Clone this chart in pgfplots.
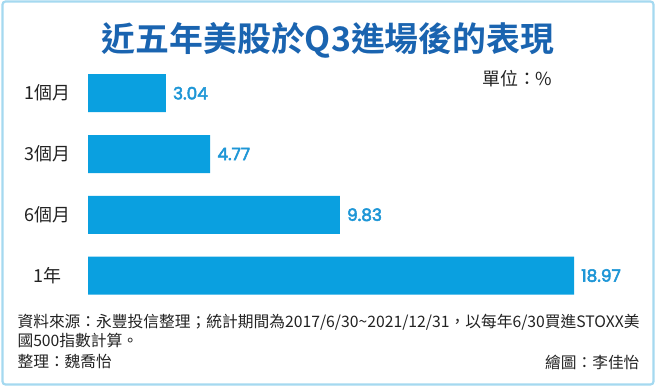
\documentclass[border=0pt]{standalone}
\usepackage{fontspec}
\usepackage{pgfplots}
\pgfplotsset{compat=1.18}
\setmainfont{Noto Sans CJK TC}[BoldFont={Noto Sans CJK TC Bold}]
\newfontfamily\numfont{Poppins}[FakeBold=3]
\definecolor{barblue}{HTML}{0AA0E0}
\definecolor{valblue}{HTML}{1E96D6}
\definecolor{titleblue}{HTML}{1A64B0}
\definecolor{framec}{HTML}{A5D9F0}
\definecolor{txt}{HTML}{222222}
\begin{document}
\begin{tikzpicture}[x=1bp,y=1bp]
\useasboundingbox (0,0) rectangle (656,386);
\draw[framec, line width=2.2bp, rounded corners=3bp] (2.5,1.5) rectangle (653.5,384.5);
\node[text=titleblue, font=\fontsize{34}{36}\selectfont\bfseries] at (328,346) {近五年美股於Q3進場後的表現};
\node[text=txt, anchor=east, font=\fontsize{18}{20}\selectfont] at (556,307) {單位：\%};
\begin{axis}[at={(88bp,80bp)}, anchor=south west, scale only axis,
  width=512.4bp, height=243.2bp, xmin=0, xmax=20, ymin=-0.5, ymax=3.5,
  y dir=reverse, xbar, bar width=38bp,
  axis line style={draw=none}, tick style={draw=none},
  xtick=\empty, ytick={0,1,2,3}, yticklabels={1個月,3個月,6個月,1年},
  yticklabel style={anchor=center, xshift=-36bp, font=\fontsize{18}{20}\selectfont, text=txt},
  nodes near coords, point meta=explicit symbolic,
  nodes near coords style={anchor=west, inner sep=0pt, xshift=7bp, font=\numfont\fontsize{17}{20}\selectfont, text=valblue},
  clip=false]
\addplot[fill=barblue, draw=none] coordinates {(3.04,0) [3.04] (4.77,1) [4.77] (9.83,2) [9.83] (18.97,3) [18.97]};
\end{axis}
\node[text=txt, anchor=west, font=\fontsize{15.8}{18}\selectfont] at (14,64) {資料來源：永豐投信整理；統計期間為2017/6/30\textasciitilde 2021/12/31，以每年6/30買進STOXX美};
\node[text=txt, anchor=west, font=\fontsize{15.8}{18}\selectfont] at (14,45) {國500指數計算。};
\node[text=txt, anchor=west, font=\fontsize{15.8}{18}\selectfont] at (14,24) {整理：魏喬怡};
\node[text=txt, anchor=east, font=\fontsize{15.8}{18}\selectfont] at (643,24) {繪圖：李佳怡};
\end{tikzpicture}
\end{document}
